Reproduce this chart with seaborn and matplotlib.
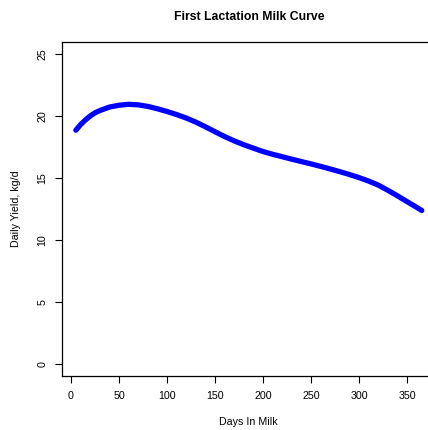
import matplotlib
matplotlib.use("Agg")
import matplotlib.pyplot as plt
import seaborn as sns
import pandas as pd

days = [5, 10, 15, 20, 25, 30, 40, 50, 60, 70, 80, 90, 100, 110, 120, 130, 140,
        150, 160, 170, 180, 190, 200, 210, 220, 230, 240, 250, 260, 270, 280, 290,
        300, 310, 320, 330, 340, 350, 360, 365]
yield_kg = [18.87, 19.33, 19.70, 20.02, 20.28, 20.46, 20.74, 20.89, 20.96, 20.92,
            20.79, 20.60, 20.38, 20.13, 19.85, 19.52, 19.14, 18.74, 18.35, 18.00,
            17.69, 17.41, 17.14, 16.92, 16.72, 16.52, 16.33, 16.14, 15.94, 15.73,
            15.51, 15.28, 15.03, 14.75, 14.42, 14.00, 13.55, 13.08, 12.62, 12.38]
x_ticks = [0, 50, 100, 150, 200, 250, 300, 350]
y_ticks = [0, 5, 10, 15, 20, 25]

df = pd.DataFrame({"Days In Milk": days, "Daily Yield": yield_kg})

sns.set_theme(style="white")
plt.rcParams['font.family'] = ['Liberation Sans', 'DejaVu Sans']

fig = plt.figure(figsize=(4.28, 4.30), dpi=100)
ax = fig.add_axes([62/428, 54/430, 373.6/428, 334/430])

sns.lineplot(data=df, x="Days In Milk", y="Daily Yield", ax=ax, color="#0000ff",
             linewidth=3.8, solid_capstyle="round", solid_joinstyle="round")

ax.set_xlim(-9.4, 379.4)
ax.set_ylim(-1, 26)
ax.set_xticks(x_ticks)
ax.set_yticks(y_ticks)
ax.set_xticklabels([str(v) for v in x_ticks], fontsize=7.7)
ax.set_yticklabels([str(v) for v in y_ticks], fontsize=7.7, rotation=90, va="center")
for s in ax.spines.values():
    s.set_color("black")
    s.set_linewidth(0.9)
ax.spines["right"].set_visible(False)
ax.tick_params(axis="both", direction="out", length=5, width=0.8, color="black",
               labelcolor="black", bottom=True, left=True, pad=5.5)
ax.set_xlabel("Days In Milk", fontsize=7.7, labelpad=12, color="black")
ax.set_ylabel("Daily Yield, kg/d", fontsize=7.7, labelpad=12, color="black")
ax.set_title("First Lactation Milk Curve", fontsize=8.8, fontweight="bold", pad=15.5,
             color="black")

fig.savefig("out.png", dpi=100)
